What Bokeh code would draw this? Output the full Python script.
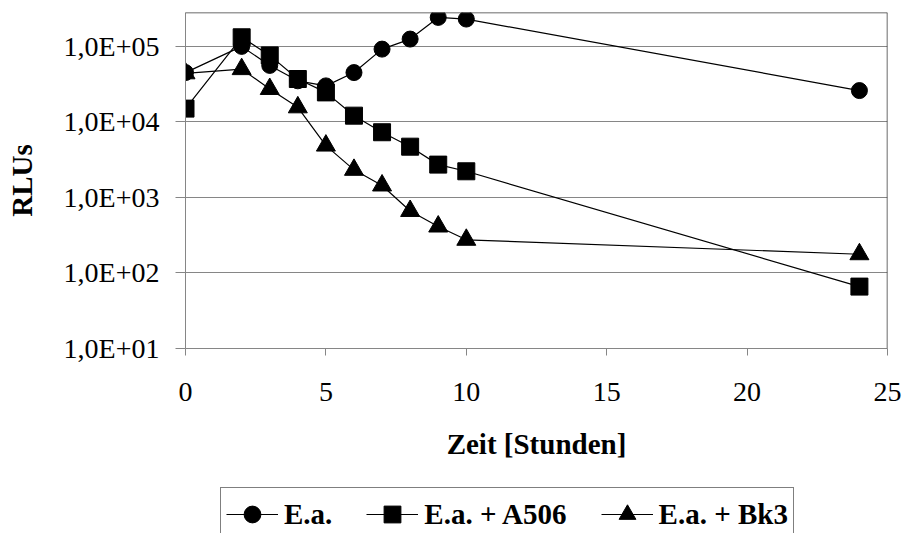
from bokeh.plotting import figure
from bokeh.layouts import column
from bokeh.models import (Range1d, FixedTicker, CustomJSTickFormatter, Legend,
                          LegendItem, Span)
from bokeh.embed import file_html
from bokeh.resources import INLINE

# ---- data -------------------------------------------------------------
hours = [0, 2, 3, 4, 5, 6, 7, 8, 9, 10, 24]
ea = [45000, 100000, 56000, 35000, 30000, 45000, 92000, 125000, 242000, 230000, 26000]
ea_a506 = [15000, 132000, 76000, 37000, 24600, 12100, 7300, 4700, 2720, 2220, 66]
ea_bk3 = [44000, 50000, 27300, 15600, 4860, 2320, 1440, 662, 412, 275, 177]
series_names = ["E.a.", "E.a. + A506", "E.a. + Bk3"]
x_ticks = [0, 5, 10, 15, 20, 25]
y_ticks = [10, 100, 1000, 10000, 100000]
x_title = "Zeit [Stunden]"
y_title = "RLUs"

FONT = "Liberation Serif"
GRID = "#868686"
MARKERS = [("circle", 16), ("square", 17), ("triangle", 19)]
SERIES = [ea, ea_a506, ea_bk3]

p = figure(width=905, height=485, output_backend="svg", toolbar_location=None,
           y_axis_type="log",
           x_range=Range1d(0, 25), y_range=Range1d(10, 2.81e5),
           min_border_left=185, min_border_right=18, min_border_top=12,
           min_border_bottom=137)
p.outline_line_color = None
p.background_fill_color = "white"
p.border_fill_color = "white"

# grid
p.xgrid.grid_line_color = None
p.ygrid.grid_line_color = GRID
p.ygrid.grid_line_width = 1

# axes
xa = p.xaxis[0]
xa.ticker = FixedTicker(ticks=x_ticks)
xa.minor_tick_line_color = None
xa.major_tick_in = 0
xa.major_tick_out = 7
xa.major_tick_line_color = GRID
xa.axis_line_color = GRID
xa.major_label_text_font = FONT
xa.major_label_text_font_size = "28px"
xa.major_label_text_color = "black"
xa.major_label_standoff = 27
xa.axis_label = x_title
xa.axis_label_text_font = FONT
xa.axis_label_text_font_style = "bold"
xa.axis_label_text_font_size = "29px"
xa.axis_label_text_color = "black"
xa.axis_label_standoff = 24

ya = p.yaxis[0]
ya.ticker = FixedTicker(ticks=y_ticks, minor_ticks=[])
ya.minor_tick_line_color = None
ya.major_tick_in = 0
ya.major_tick_out = 10
ya.major_tick_line_color = GRID
ya.axis_line_color = GRID
ya.formatter = CustomJSTickFormatter(code="""
const e = Math.round(Math.log10(tick));
return "1,0E+" + (e < 10 ? "0" : "") + e;
""")
ya.major_label_text_font = FONT
ya.major_label_text_font_size = "28px"
ya.major_label_text_color = "black"
ya.major_label_standoff = 16
ya.axis_label = y_title
ya.axis_label_text_font = FONT
ya.axis_label_text_font_style = "bold"
ya.axis_label_text_font_size = "29px"
ya.axis_label_text_color = "black"
ya.axis_label_standoff = 23

# top and right border of the plot area
p.add_layout(Span(location=25, dimension="height", line_color="#3a3a3a", line_width=1.5))
p.add_layout(Span(location=2.81e5, dimension="width", line_color="#3a3a3a", line_width=1.5))

# series
for vals, (marker, size) in zip(SERIES, MARKERS):
    p.line(hours, vals, line_color="black", line_width=1.2)
    p.scatter(hours, vals, marker=marker, size=size,
              fill_color="black", line_color="black")

# legend strip below the chart; its renderers lie outside its (empty) view,
# they only provide the legend glyph samples
lg = figure(width=905, height=48, output_backend="svg", toolbar_location=None,
            x_axis_location=None, y_axis_location=None,
            x_range=Range1d(-100, -99), y_range=Range1d(-100, -99),
            min_border_left=0, min_border_right=0, min_border_top=0,
            min_border_bottom=0)
lg.outline_line_color = None
lg.xgrid.visible = False
lg.ygrid.visible = False
items = []
for name, vals, (marker, size) in zip(series_names, SERIES, MARKERS):
    l = lg.line(hours, vals, line_color="black", line_width=1.2)
    s = lg.scatter(hours, vals, marker=marker, size=size,
                   fill_color="black", line_color="black")
    items.append(LegendItem(label=name, renderers=[l, s], index=0))

legend = Legend(items=items, orientation="horizontal", location=(35, -8),
                glyph_width=52, glyph_height=42, label_standoff=6, spacing=34,
                padding=5, margin=0,
                label_text_font=FONT, label_text_font_style="bold",
                label_text_font_size="29px", label_text_color="black",
                border_line_color="black", border_line_width=1.5,
                background_fill_color="white", background_fill_alpha=1)
lg.add_layout(legend, "center")

layout = column(p, lg, spacing=0)
open("out.html", "w").write(file_html(layout, INLINE))
